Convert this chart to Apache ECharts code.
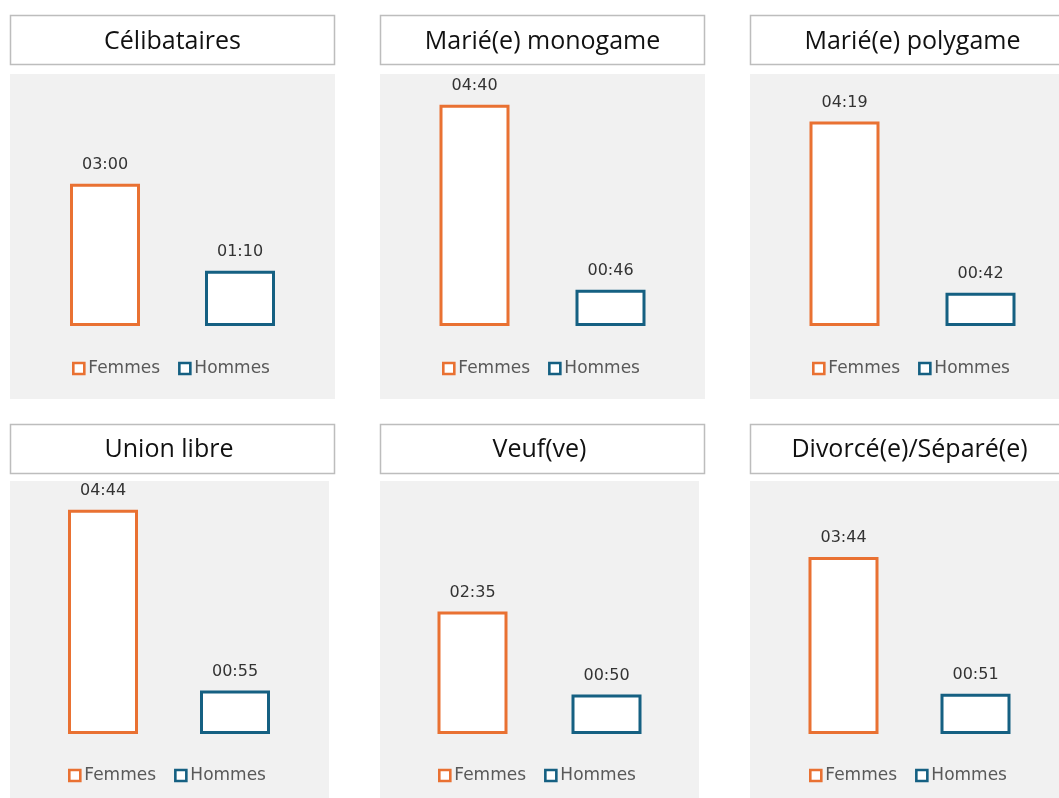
<!DOCTYPE html>
<html>
<head>
<meta charset="utf-8">
<script src="https://cdn.jsdelivr.net/npm/echarts@6/dist/echarts.min.js"></script>
<style>html,body{margin:0;padding:0;background:#fff}#c{width:1059px;height:798px}</style>
</head>
<body>
<div id="c"></div>
<script>
// ---- data ----
const panels = ['Célibataires', 'Marié(e) monogame', 'Marié(e) polygame', 'Union libre', 'Veuf(ve)', 'Divorcé(e)/Séparé(e)'];
const seriesNames = ['Femmes', 'Hommes'];
// durations in minutes (labels shown as HH:MM)
const femmes = [180, 280, 259, 284, 155, 224]; // 03:00, 04:40, 04:19, 04:44, 02:35, 03:44
const hommes = [70, 46, 42, 55, 50, 51];       // 01:10, 00:46, 00:42, 00:55, 00:50, 00:51

// ---- layout ----
const colors = { Femmes: '#E97132', Hommes: '#156082' };
const layout = [
  { cx: 172.5, bandW: 135, gridTop: 89, bgX: 10, bgY: 74, bgW: 325, bgH: 325, tX: 10, tY: 15, titleY: 41.5, legX: 72, legY: 360 },
  { cx: 542.5, bandW: 136, gridTop: 89, bgX: 380, bgY: 74, bgW: 325, bgH: 325, tX: 380, tY: 15, titleY: 41.5, legX: 442, legY: 360 },
  { cx: 912.5, bandW: 136, gridTop: 89, bgX: 750, bgY: 74, bgW: 325, bgH: 325, tX: 750, tY: 15, titleY: 41.5, legX: 812, legY: 360 },
  { cx: 169, bandW: 132, gridTop: 497, bgX: 10, bgY: 481, bgW: 319, bgH: 330, tX: 10, tY: 424, titleY: 449.5, legX: 68, legY: 767 },
  { cx: 539.5, bandW: 134, gridTop: 497, bgX: 380, bgY: 481, bgW: 319, bgH: 330, tX: 380, tY: 424, titleY: 449.5, legX: 438, legY: 767 },
  { cx: 909.5, bandW: 132, gridTop: 497, bgX: 750, bgY: 481, bgW: 325, bgH: 330, tX: 750, tY: 424, titleY: 449.5, legX: 809, legY: 767 }
];
const gridH = 237;

function fmt(v) {
  const h = Math.floor(v / 60), m = v % 60;
  return String(h).padStart(2, '0') + ':' + String(m).padStart(2, '0');
}

const graphic = [];
const title = [];
const grid = [], xAxis = [], yAxis = [], series = [], legend = [];

layout.forEach((L, i) => {
  graphic.push({ type: 'rect', z: -10, silent: true, shape: { x: L.bgX, y: L.bgY, width: L.bgW, height: L.bgH }, style: { fill: '#F1F1F1' } });
  graphic.push({ type: 'rect', z: -10, silent: true, shape: { x: L.tX + 0.5, y: L.tY + 0.5, width: 324, height: 49 }, style: { fill: '#FFFFFF', stroke: '#BDBDBD', lineWidth: 1.5 } });
  title.push({ text: panels[i], left: L.cx, top: L.titleY, textAlign: 'center', textVerticalAlign: 'middle', padding: 0,
    textStyle: { fontFamily: 'Open Sans', fontSize: 25, fontWeight: 'normal', color: '#111111' } });
  grid.push({ left: L.cx - L.bandW, width: L.bandW * 2, top: L.gridTop, height: gridH, containLabel: false });
  xAxis.push({ type: 'category', gridIndex: i, data: seriesNames, show: false });
  yAxis.push({ type: 'value', gridIndex: i, min: 0, max: 300, show: false });
  const vals = { Femmes: [femmes[i], '-'], Hommes: ['-', hommes[i]] };
  seriesNames.forEach(name => {
    series.push({
      type: 'bar', name, xAxisIndex: i, yAxisIndex: i, stack: 'p' + i, barWidth: 70,
      data: vals[name],
      itemStyle: { color: '#FFFFFF', borderColor: colors[name], borderWidth: 3 },
      label: { show: true, position: 'top', distance: 11, formatter: p => fmt(p.value),
        fontFamily: 'DejaVu Sans', fontSize: 16, color: '#333333' },
      emphasis: { disabled: true }
    });
  });
  legend.push({
    left: L.legX, top: L.legY, padding: 0, itemGap: 18, itemWidth: 11, itemHeight: 11, icon: 'rect',
    selectedMode: false,
    textStyle: { fontFamily: 'DejaVu Sans', fontSize: 17, color: '#595959', padding: [0, 0, 0, -1] },
    data: seriesNames.map(n => ({ name: n, itemStyle: { color: '#FFFFFF', borderColor: colors[n], borderWidth: 2.6 } }))
  });
});

const chart = echarts.init(document.getElementById('c'), null, { renderer: 'canvas' });
chart.setOption({
  backgroundColor: '#FFFFFF',
  animation: false,
  graphic, title, grid, xAxis, yAxis, series, legend
});
</script>
</body>
</html>
